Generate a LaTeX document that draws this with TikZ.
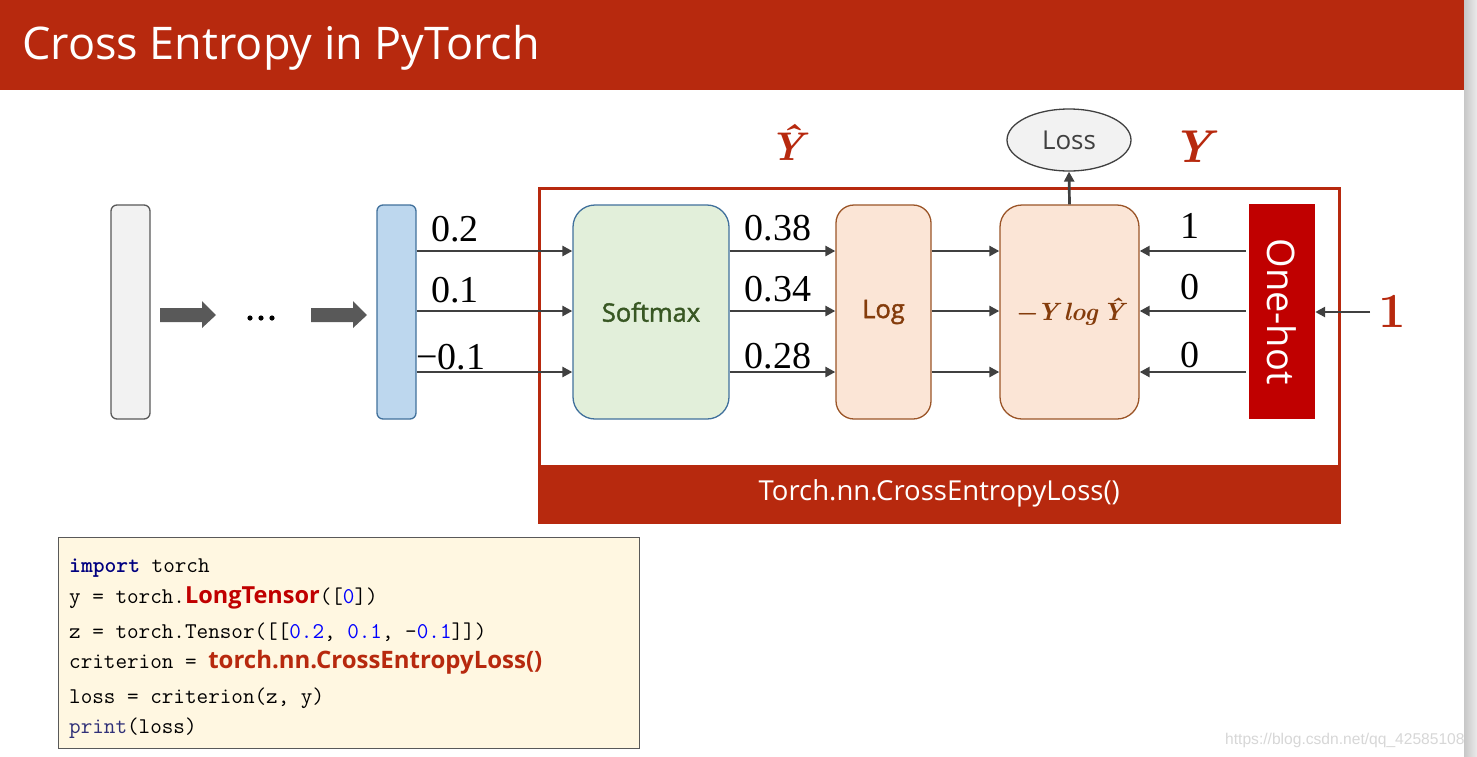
\RequirePackage{fix-cm}
\documentclass[tikz,border=0pt]{standalone}
\usepackage{fontspec}
\setsansfont{Open Sans}
\newfontfamily\wmfont{Liberation Sans}
\newfontfamily\numfont{Liberation Serif}
\newfontfamily\semib{Open Sans}[FakeBold=1.6]
\usetikzlibrary{arrows.meta,shapes.geometric}
\definecolor{tred}{RGB}{183,41,14}
\definecolor{ohred}{RGB}{192,0,0}
\definecolor{darr}{RGB}{64,64,64}
\definecolor{barrow}{RGB}{89,89,89}
\definecolor{gfill}{RGB}{242,242,242}
\definecolor{gdraw}{RGB}{89,89,89}
\definecolor{bfill}{RGB}{189,215,238}
\definecolor{bdraw}{RGB}{65,113,156}
\definecolor{sfill}{RGB}{226,239,218}
\definecolor{stext}{RGB}{56,87,35}
\definecolor{ofill}{RGB}{251,229,214}
\definecolor{odraw}{RGB}{155,85,40}
\definecolor{otext}{RGB}{132,60,12}
\definecolor{codebg}{RGB}{255,247,225}
\definecolor{navy}{RGB}{0,0,128}
\definecolor{numblue}{RGB}{0,0,255}
\definecolor{printc}{RGB}{48,48,120}
\definecolor{wm}{RGB}{215,215,215}
\tikzset{
  bar/.style={draw, line width=1.3pt, rounded corners=6pt, minimum width=39pt, minimum height=214pt, inner sep=0pt},
  procbox/.style={draw, line width=1.3pt, rounded corners=22pt, minimum height=214pt, inner sep=0pt},
  arr/.style={draw=darr, line width=2.7pt, -{Triangle[length=10pt,width=10pt]}},
  numlbl/.style={anchor=base, inner sep=0pt, font=\numfont\fontsize{38}{40}\selectfont},
  codeline/.style={anchor=base west, inner sep=0pt, font=\ttfamily\fontsize{22.5}{24}\selectfont},
}
\begin{document}
\begin{tikzpicture}[x=1pt,y=-1pt]
\useasboundingbox (0,0) rectangle (1477,756);
\fill[white] (0,0) rectangle (1477,756);
% title bar
\fill[tred] (0,0) rectangle (1464,90);
\node[anchor=base west, inner sep=0pt, text=white, font=\sffamily\fontsize{45}{50}\selectfont] (title) at (22,59) {Cross Entropy in PyTorch};
% outer frame and band
\draw[tred, line width=3pt] (539,188) rectangle (1339,522);
\node[fill=tred, anchor=north west, minimum width=800pt, minimum height=57pt, inner sep=0pt, text=white, font=\sffamily\fontsize{27.5}{30}\selectfont] (band) at (539,465) {Torch.nn.CrossEntropyLoss()};
% bars
\node[bar, draw=gdraw, fill=gfill] (gbar) at (130.5,312) {};
\node[bar, draw=bdraw, fill=bfill] (bbar) at (396.5,312) {};
% block arrows
\fill[barrow] (160,308) -- (202,308) -- (202,301) -- (216,315) -- (202,328) -- (202,322) -- (160,322) -- cycle;
\fill[barrow] (311,308) -- (353,308) -- (353,301) -- (367,315) -- (353,328) -- (353,322) -- (311,322) -- cycle;
\foreach \x in {250,261,272} \fill[black] (\x,318) circle (2.6pt);
% process boxes
\node[procbox, draw=bdraw, fill=sfill, minimum width=156pt, text=stext, font=\semib\fontsize{25.5}{28}\selectfont] (soft) at (651,312) {Softmax};
\node[procbox, draw=odraw, fill=ofill, minimum width=95pt, rounded corners=18pt, text=otext, font=\semib\fontsize{25.5}{28}\selectfont] (logb) at (883.5,312) {Log};
\node[procbox, draw=odraw, fill=ofill, minimum width=139pt] (nll) at (1069.5,312) {};
\node[inner sep=0pt, text=otext, font=\bfseries\itshape\fontsize{25}{28}\selectfont] (nlltext) at (nll.center) {−Y\hspace{0.2em}log\hspace{0.2em}Ŷ};
\node[fill=ohred, minimum width=66pt, minimum height=215pt, inner sep=0pt, text=white, font=\sffamily\fontsize{38}{40}\selectfont] (oh) at (1282,311.5) {\rotatebox[origin=c]{-90}{One-hot}};
\node[ellipse, draw=darr, line width=1.3pt, fill=gfill, minimum width=124pt, minimum height=62pt, inner sep=0pt, text=darr, font=\sffamily\fontsize{26}{30}\selectfont] (loss) at (1069,140) {Loss};
% row coordinates
\coordinate (r1) at (0,251);
\coordinate (r2) at (0,311);
\coordinate (r3) at (0,372);
\coordinate (ohs1) at (1246,251);
\coordinate (ohs2) at (1246,311);
\coordinate (ohs3) at (1246,372);
\coordinate (one) at (1370,312);
% arrows
\foreach \r in {r1,r2,r3} {
  \draw[arr] (bbar.east |- \r) -- (soft.west |- \r);
  \draw[arr] (soft.east |- \r) -- (logb.west |- \r);
  \draw[arr] (logb.east |- \r) -- (nll.west |- \r);
}
\draw[arr] (ohs1) -- (nll.east |- ohs1);
\draw[arr] (ohs2) -- (nll.east |- ohs2);
\draw[arr] (ohs3) -- (nll.east |- ohs3);
\draw[arr] (one) -- (oh.east |- one);
\draw[arr] (nll.north) -- (loss.south);
% labels
\node[numlbl] (l1) at (455,241) {0.2};
\node[numlbl] (l2) at (455,302) {0.1};
\node[numlbl] (l3) at (451,369) {−0.1};
\node[numlbl] (m1) at (778,240) {0.38};
\node[numlbl] (m2) at (778,301) {0.34};
\node[numlbl] (m3) at (778,368) {0.28};
\node[numlbl] (o1) at (1190,238) {1};
\node[numlbl] (o2) at (1190,299) {0};
\node[numlbl] (o3) at (1190,367) {0};
\node[anchor=base, inner sep=0pt, text=tred, font=\bfseries\fontsize{49}{52}\selectfont] (onelbl) at (1392,327) {1};
\node[anchor=base, inner sep=0pt, text=tred, font=\bfseries\itshape\fontsize{40}{44}\selectfont] (yhat) at (787,160) {Ŷ};
\node[anchor=base, inner sep=0pt, text=tred, font=\bfseries\itshape\fontsize{46}{50}\selectfont] (ylbl) at (1192,162) {Y};
% code box
\node[draw=gdraw, line width=1pt, fill=codebg, anchor=north west, minimum width=581pt, minimum height=211pt, inner sep=0pt] (code) at (58,537) {};
\node[codeline] (c1) at (69,572) {\textcolor{navy}{\bfseries import} torch};
\node[codeline] (c2) at (69,603) {y = torch.{\sffamily\bfseries\fontsize{23.5}{26}\selectfont\textcolor{ohred}{LongTensor}}([\textcolor{numblue}{0}])};
\node[codeline] (c3) at (69,638) {z = torch.Tensor([[\textcolor{numblue}{0.2}, \textcolor{numblue}{0.1}, -\textcolor{numblue}{0.1}]])};
\node[codeline] (c4) at (69,668) {criterion = {\sffamily\bfseries\fontsize{24}{26}\selectfont\textcolor{tred}{torch.nn.CrossEntropyLoss()}}};
\node[codeline] (c5) at (69,703) {loss = criterion(z, y)};
\node[codeline] (c6) at (69,733) {\textcolor{printc}{print}(loss)};
% watermark and right strip
\node[anchor=base west, inner sep=0pt, text=wm, font=\wmfont\fontsize{15.6}{18}\selectfont] (wmark) at (1225,744) {https://blog.csdn.net/qq\_42585108};
\shade[left color=black!22, right color=black!8] (1464,0) rectangle (1477,756);
\end{tikzpicture}
\end{document}
